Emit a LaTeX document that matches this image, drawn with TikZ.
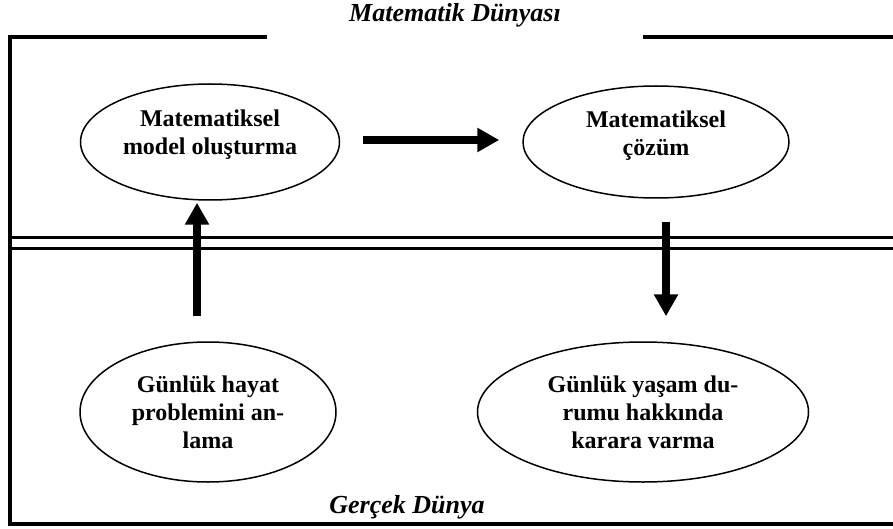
\documentclass[tikz,border=0pt]{standalone}
\usepackage{fontspec}
\setmainfont{Liberation Serif}
\usetikzlibrary{shapes.geometric, arrows.meta}
\begin{document}
\begin{tikzpicture}[x=1pt, y=-1pt,
    stage/.style={ellipse, draw, line width=1.5pt, inner sep=0pt, align=center, font=\fontsize{24}{28}\selectfont\bfseries},
    world/.style={font=\fontsize{26}{30}\selectfont\bfseries\itshape},
    border/.style={line width=3.5pt, line join=miter},
    divider/.style={line width=3pt},
    bigarrow/.style={-{Triangle[length=22pt, width=23pt]}, line width=8pt}
]
    \useasboundingbox (0,0) rectangle (893,529);

    % Frame of the two worlds
    \draw[border] (267,37) -- (10,37) -- (10,524) -- (893,524);
    \draw[border] (643,37) -- (893,37);
    \draw[divider] (10,237) -- (893,237);
    \draw[divider] (10,248) -- (893,248);

    \node[world] (mw) at (455,15) {Matematik Dünyası};
    \node[world] (gw) at (407,507) {Gerçek Dünya};

    % Stages
    \node[stage, minimum width=259pt, minimum height=116pt, text depth=20pt] (model) at (210,142) {Matematiksel\\model oluşturma};
    \node[stage, minimum width=266pt, minimum height=112pt, text depth=18pt] (solve) at (656,142) {Matematiksel\\çözüm};
    \node[stage, minimum width=256pt, minimum height=140pt] (real) at (208,412) {Günlük hayat\\problemini an-\\lama};
    \node[stage, minimum width=331pt, minimum height=140pt] (decide) at (643,412) {Günlük yaşam du-\\rumu hakkında\\karara varma};

    % Arrows between stages
    \draw[bigarrow, shorten <=25pt, shorten >=2pt] ([xshift=-11pt]real.north) -- ([xshift=-11pt]real.north |- model.south);
    \draw[bigarrow, shorten <=23pt, shorten >=23pt] ([yshift=2pt]model.east) -- ([yshift=2pt]solve.west);
    \draw[bigarrow, shorten <=23pt, shorten >=25pt] ([xshift=10pt]solve.south) -- ([xshift=10pt]solve.south |- decide.north);
\end{tikzpicture}
\end{document}
